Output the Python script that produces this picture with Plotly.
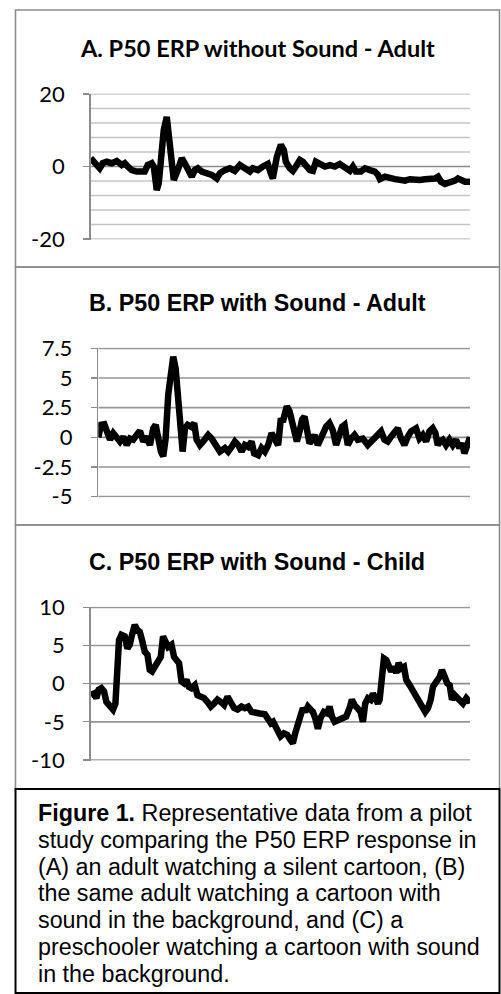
import plotly.graph_objects as go

W, H = 501, 994

# ---------------- data ----------------
a_sample = [0, 4, 9, 12, 16, 21, 26, 31, 34, 37, 41, 46, 51, 54, 57, 61, 63, 66, 68, 71,
            73, 76, 78, 81, 83, 87, 91, 94, 98, 101, 104, 107, 111, 116, 121, 126, 129, 134,
            139, 144, 149, 154, 159, 162, 167, 172, 177, 180, 182, 186, 188, 190, 193, 195,
            199, 202, 205, 209, 212, 215, 219, 222, 225, 229, 234, 239, 244, 249, 254, 259,
            262, 265, 270, 274, 279, 284, 287, 289, 294, 299, 304, 309, 314, 319, 324, 329,
            334, 339, 344, 347, 350, 354, 357, 360, 364, 367, 370, 374, 379]
a_uv = [2.3, 1.3, -0.5, 0.9, 1.3, 0.9, 1.5, 0.4, 0.9, 0.0, -1.0, -1.4, -1.2, -1.4, 0.4, 0.9,
        0.0, -6.5, -4.6, 3.6, 10.1, 13.7, 9.1, 0.0, -3.7, -1.0, 2.3, 0.9, -1.4, -2.8, -1.0,
        -0.5, -1.4, -1.9, -2.3, -3.3, -1.9, -1.0, -0.5, -1.2, 0.4, -0.5, -1.4, -0.5, -1.0,
        0.0, 0.7, -1.9, -3.3, 2.7, 5.2, 6.0, 4.5, 1.3, -0.5, -1.2, 0.0, 1.8, 1.3, 0.0, -1.0,
        -1.2, 1.3, 0.7, 0.0, 0.4, 0.0, 0.7, -0.5, -1.2, 0.0, -1.4, -1.4, -0.5, -1.0, -1.4,
        -2.3, -3.5, -2.8, -3.3, -3.5, -3.7, -3.9, -3.5, -3.7, -3.7, -3.5, -3.5, -3.3, -2.8,
        -4.2, -4.8, -4.6, -4.2, -3.9, -3.3, -3.9, -4.2, -4.2]

b_sample = [0, 1, 2.7, 6, 9.4, 11.7, 15, 18.4, 21.7, 25, 28.4, 31.7, 35, 38.4, 41.7, 45,
            48.4, 51.7, 55, 57.4, 60, 62.7, 65, 67.4, 70, 72.7, 75, 77.4, 80, 82.7, 84.4,
            86.7, 89.4, 92.7, 96, 98.4, 101.7, 105, 110, 113.4, 116.7, 121.7, 126.7, 130,
            133.4, 136.7, 140, 143.4, 146.7, 150, 153.4, 156, 160, 163.4, 166.7, 170, 173.4,
            176.7, 180, 182.7, 184.7, 186.4, 188.7, 191.4, 194, 196.4, 198.7, 201.4, 204,
            206.4, 208.7, 211.4, 214, 216.4, 219.7, 222, 224.7, 228, 231.4, 234.7, 238,
            241.4, 244, 246.4, 249.7, 253, 256.4, 259.7, 264.7, 269.7, 273, 278, 283, 286.4,
            289.7, 293, 296.4, 299.7, 303, 306.4, 309.7, 313, 318, 321.4, 324.7, 328, 331.4,
            334.7, 337.4, 339.7, 342, 344.7, 348, 351.4, 354.7, 358, 361.4, 364, 366.4,
            368.7, 371.4, 372]
b_uv = [0.0, 0.6, 1.05, 1.1, 0.5, -0.2, 0.35, -0.1, -0.35, 0.05, -0.65, -0.1, -0.2, 0.2,
        0.54, -0.35, 0.05, -0.65, 0.76, 1.05, -0.35, -1.2, -1.6, -0.1, 3.6, 6.1, 6.8, 5.8,
        2.7, -0.65, -1.2, 0.76, 1.05, 0.9, 1.2, -0.2, -0.65, -0.35, 0.2, -0.1, -0.65, -1.2,
        -0.9, -1.2, -0.8, -0.35, -0.65, -1.2, -0.65, -0.8, -0.35, -1.35, -1.5, -0.9, -1.2,
        -0.65, 0.35, -0.1, -0.65, 1.6, 1.3, 1.9, 2.6, 2.2, 1.3, 0.06, -0.35, 0.5, 1.5, 1.75,
        0.76, -0.5, -0.2, 0.2, -0.65, -0.2, 0.5, 0.9, 1.2, 0.6, -0.65, 0.2, 0.9, 1.05,
        -0.65, -0.1, 0.2, -0.2, -0.1, -0.65, -0.35, 0.2, 0.5, -0.2, -0.35, 0.06, 0.35,
        0.76, -0.1, -0.65, 0.05, 0.5, 0.76, -0.1, 0.2, -0.35, 0.5, 0.76, 0.35, -0.65,
        -0.35, -0.2, -0.65, -0.2, -0.65, -0.2, -0.9, -0.5, -1.35, -0.65, -0.2, 0.0]

c_sample = [0, 3.3, 5.7, 8, 10.7, 13.3, 15.7, 19, 22.3, 24.7, 26.7, 28.3, 30.7, 34, 36.7,
            39, 41.3, 44, 46.7, 49, 51.3, 54, 56.7, 59, 61.3, 64, 66.7, 70, 72.3, 74.7,
            77.3, 80.7, 83.3, 85.7, 88.3, 90.7, 93.3, 95.7, 98, 100.7, 104, 106.7, 110,
            113.3, 116.7, 120, 123.3, 126.7, 130, 133.3, 136.7, 140, 143.3, 146.7, 150.7,
            154, 157.3, 160.7, 164.7, 169, 174, 177.3, 180, 182.3, 184.7, 187.3, 189.7, 193,
            196.3, 199.7, 202, 204.3, 207, 209.7, 212, 214.3, 217, 219.7, 222, 224.3, 227,
            229.7, 233, 236.3, 238.7, 241, 243.7, 247, 251, 255.3, 258.7, 261, 263.7, 267,
            269.7, 272, 274.3, 277, 279.7, 282, 284.3, 287, 288.7, 290.3, 293, 295.3, 297.7,
            300.3, 303, 305.3, 307.7, 310.3, 313, 315.3, 318.7, 322, 324.3, 327, 329.7, 332,
            334.3, 337, 339.7, 342, 345.3, 348.7, 351, 353.7, 356.3, 358.7, 361, 363.7,
            366.3, 368.7, 372, 375.3, 378.7, 379]
c_uv = [-1.5, -1.3, -1.9, -0.8, -0.6, -1.0, -2.4, -3.0, -3.4, -2.6, 2.2, 5.7, 6.4, 6.2,
        4.6, 5.1, 6.4, 7.7, 7.0, 6.8, 5.7, 4.2, 3.8, 1.8, 1.6, 2.2, 3.1, 3.5, 6.2, 5.5, 4.8,
        5.1, 3.5, 3.1, 2.7, 0.3, 0.05, 0.5, -0.4, -0.6, -0.2, -1.5, -1.7, -1.9, -2.4, -3.0,
        -2.6, -2.1, -2.4, -2.8, -1.7, -2.6, -3.2, -3.4, -3.0, -3.2, -3.0, -3.7, -3.9, -3.9,
        -4.0, -4.5, -5.2, -5.0, -5.6, -6.7, -6.9, -6.5, -6.7, -7.4, -7.8, -6.5, -5.4, -4.5,
        -3.2, -3.7, -3.0, -3.4, -3.7, -4.5, -5.9, -4.5, -3.7, -3.9, -3.0, -4.3, -5.0, -4.8,
        -4.5, -4.3, -3.2, -2.1, -2.8, -3.4, -3.7, -5.0, -2.6, -1.9, -2.1, -1.3, -2.1, -2.6,
        -2.1, 0.5, 3.3, 3.1, 2.4, 1.6, 2.2, 1.4, 2.7, 2.0, 2.2, 0.5, -0.2, -1.0, -1.5, -1.9,
        -3.0, -3.4, -3.7, -3.2, -2.1, -0.4, 0.3, 0.9, 1.8, 0.7, 0.05, -0.2, -2.1, -1.5,
        -1.9, -2.4, -2.6, -1.9, -2.4, -2.2]

titles = ["A. P50 ERP without Sound - Adult",
          "B. P50 ERP with Sound - Adult",
          "C. P50 ERP with Sound - Child"]

a_ticks = [-20, 0, 20]
a_ticktext = ["-20", "0", "20"]
a_grid = [-20, -16, -12, -8, -4, 0, 4, 8, 12, 16, 20]
b_ticks = [-5, -2.5, 0, 2.5, 5, 7.5]
b_ticktext = ["-5", "-2.5", "0", "2.5", "5", "7.5"]
c_ticks = [-10, -5, 0, 5, 10]
c_ticktext = ["-10", "-5", "0", "5", "10"]

caption_lines = [
    "<b>Figure 1.</b> Representative data from a pilot",
    "study comparing the P50 ERP response in",
    "(A) an adult watching a silent cartoon, (B)",
    "the same adult watching a cartoon with",
    "sound in the background, and (C) a",
    "preschooler watching a cartoon with sound",
    "in the background.",
]

# ---------------- layout helpers ----------------
def px_x(p):
    return p / W

def px_y(p):
    return 1 - p / H

fig = go.Figure()

# horizontal gridlines as thin line traces through each panel's own axes (drawn first)
panels = [("x", "y", a_sample, a_grid, "#c4c4c4", 1.4),
          ("x2", "y2", b_sample, b_ticks, "#969696", 1.7),
          ("x3", "y3", c_sample, c_ticks, "#969696", 1.7)]
for xa, ya, xs, vals, col, wd in panels:
    gx, gy = [], []
    for v in vals:
        if v == 0:
            continue
        gx += [min(xs), max(xs), None]
        gy += [v, v, None]
    fig.add_trace(go.Scatter(x=gx, y=gy, mode="lines", line=dict(color=col, width=wd),
                             xaxis=xa, yaxis=ya, showlegend=False, hoverinfo="skip"))
    fig.add_trace(go.Scatter(x=[min(xs), max(xs)], y=[0, 0], mode="lines",
                             line=dict(color="#8c8c8c", width=1.7),
                             xaxis=xa, yaxis=ya, showlegend=False, hoverinfo="skip"))

line = dict(color="black", width=6.5)
fig.add_trace(go.Scatter(x=a_sample, y=a_uv, mode="lines", line=line, xaxis="x", yaxis="y",
                         showlegend=False, hoverinfo="skip"))
fig.add_trace(go.Scatter(x=b_sample, y=b_uv, mode="lines", line=line, xaxis="x2", yaxis="y2",
                         showlegend=False, hoverinfo="skip"))
fig.add_trace(go.Scatter(x=c_sample, y=c_uv, mode="lines", line=line, xaxis="x3", yaxis="y3",
                         showlegend=False, hoverinfo="skip"))

tickfont = dict(family="Lato", size=22, color="black")
xcommon = dict(showgrid=False, zeroline=False, showline=False, showticklabels=False, ticks="",
               fixedrange=True)

def yax(rng, vals, text, domain, anchor):
    return dict(range=rng, domain=domain, anchor=anchor,
                tickmode="array", tickvals=vals, ticktext=text,
                showgrid=False, zeroline=False,
                showline=True, linecolor="#8c8c8c", linewidth=1.5,
                ticks="outside", ticklen=6, tickcolor="#8c8c8c", tickwidth=1.3,
                ticklabelstandoff=14, tickfont=tickfont, fixedrange=True)

fig.update_layout(
    template="none",
    width=W, height=H, margin=dict(l=0, r=0, t=0, b=0, pad=0, autoexpand=False),
    paper_bgcolor="white", plot_bgcolor="rgba(0,0,0,0)",
    xaxis=dict(xcommon, domain=[px_x(90.7), px_x(470)], range=[0, 379], anchor="y"),
    xaxis2=dict(xcommon, domain=[px_x(98.3), px_x(470)], range=[0, 372], anchor="y2"),
    xaxis3=dict(xcommon, domain=[px_x(90.7), px_x(470)], range=[0, 379], anchor="y3"),
    yaxis=yax([-20.15, 20.15], a_ticks, a_ticktext, [px_y(239.5), px_y(93.5)], "x"),
    yaxis2=yax([-5.05, 7.55], b_ticks, b_ticktext, [px_y(497.3), px_y(347.7)], "x2"),
    yaxis3=yax([-10.08, 10.08], c_ticks, c_ticktext, [px_y(760.6), px_y(606.7)], "x3"),
)

shapes = []
# panel frames
for top, bot in [(10, 267), (267, 525), (525, 789)]:
    shapes.append(dict(type="rect", xref="paper", yref="paper",
                       x0=px_x(15.5), x1=px_x(499.5), y0=px_y(bot), y1=px_y(top),
                       line=dict(color="#8c8c8c", width=1.6), fillcolor="rgba(0,0,0,0)",
                       layer="above"))
shapes.append(dict(type="rect", xref="paper", yref="paper",
                   x0=px_x(15.5), x1=px_x(499.5), y0=px_y(993), y1=px_y(789),
                   line=dict(color="black", width=2), fillcolor="rgba(0,0,0,0)", layer="above"))
fig.update_layout(shapes=shapes)

ann = []
title_fonts = [dict(family="Lato", size=23.5, color="black", weight="bold"),
               dict(family="Liberation Sans", size=23.3, color="black", weight="bold"),
               dict(family="Liberation Sans", size=23.3, color="black", weight="bold")]
for t, yc, f in zip(titles, [48, 303, 562], title_fonts):
    ann.append(dict(text=t, x=px_x(257), y=px_y(yc), xref="paper", yref="paper",
                    xanchor="center", yanchor="middle", showarrow=False, font=f))
for i, ln in enumerate(caption_lines):
    ann.append(dict(text=ln, x=px_x(36), y=px_y(813 + 26.8 * i), xref="paper", yref="paper",
                    xanchor="left", yanchor="middle", showarrow=False,
                    font=dict(family="Liberation Sans", size=23.3, color="black")))
fig.update_layout(annotations=ann)

fig.write_html("out.html", config={"displayModeBar": False, "staticPlot": True},
               post_script="document.body.style.margin='0px';")
